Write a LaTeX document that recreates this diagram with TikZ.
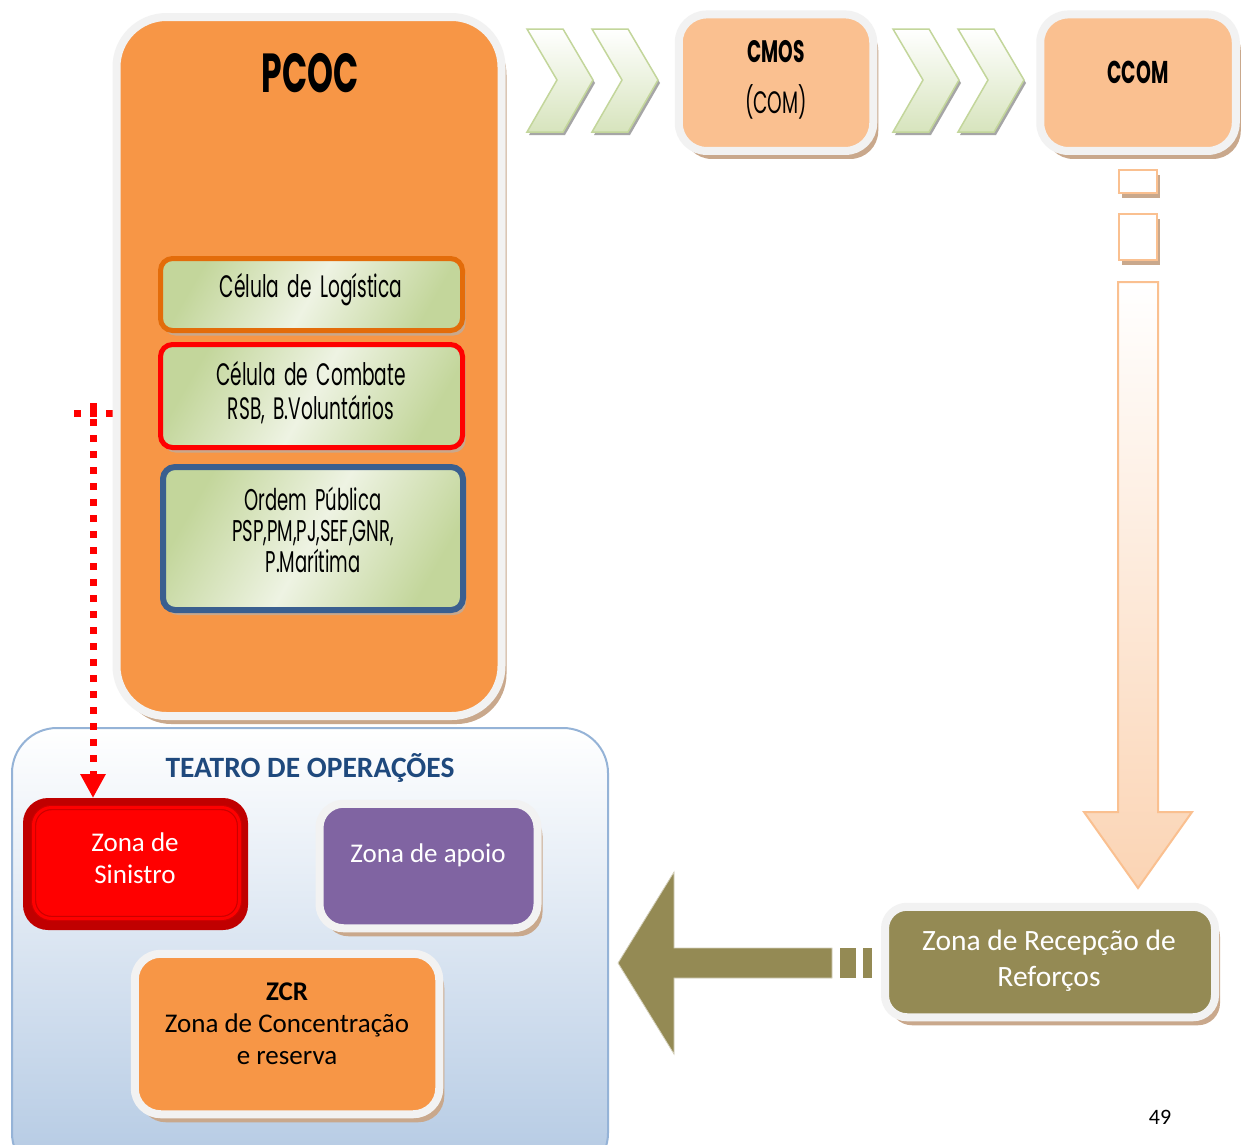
\documentclass[tikz,border=0pt]{standalone}
\usepackage{fontspec}
\setmainfont{Carlito}
\newfontfamily\cond[FakeStretch=0.6, WordSpace=1.7]{Poppins}
\usetikzlibrary{arrows.meta,shadows}
\definecolor{orangeF}{HTML}{F79646}
\definecolor{peach}{HTML}{FAC090}
\definecolor{frameC}{HTML}{F2F2F2}
\definecolor{shadowC}{HTML}{C9A88C}
\definecolor{cellG}{HTML}{C3D69B}
\definecolor{cellL}{HTML}{EEF3E3}
\definecolor{logB}{HTML}{E36C0A}
\definecolor{combB}{HTML}{FF0000}
\definecolor{ordB}{HTML}{3A5F8F}
\definecolor{chevE}{HTML}{C3D69B}
\definecolor{chevF}{HTML}{D7E4BD}
\definecolor{arrE}{HTML}{FAC090}
\definecolor{arrF}{HTML}{FBD4B4}
\definecolor{oliveC}{HTML}{948A54}
\definecolor{teaF}{HTML}{B3C9E3}
\definecolor{teaB}{HTML}{95B3D7}
\definecolor{teaT}{HTML}{1F497D}
\definecolor{sinD}{HTML}{C00000}
\definecolor{apoioC}{HTML}{8064A2}
\tikzset{
  framebox/.style={draw=frameC, line width=8pt, rounded corners=#1},
  framebox/.default=20pt,
  shad/.style={drop shadow={shadow xshift=5pt, shadow yshift=-8pt, fill=shadowC, opacity=1}},
  smallshad/.style={drop shadow={shadow xshift=3pt, shadow yshift=-5pt, fill=shadowC, opacity=1}},
  cellbox/.style={line width=5pt, rounded corners=12pt, shading=axis, top color=cellG, bottom color=cellG, middle color=cellL, shading angle=60, smallshad},
  celltext/.style={font=\cond\fontsize{31}{34}\selectfont, align=center},
  calib/.style={font=\fontsize{27}{32}\selectfont, align=center},
  chev/.pic={\path[draw=chevE, line width=1.5pt, top color=white, bottom color=chevF,
     drop shadow={shadow xshift=2pt, shadow yshift=-3pt, fill=gray!70, opacity=1}]
     (0,0) -- (36,0) -- (66,51) -- (36,103) -- (0,103) -- (30,51) -- cycle;},
  reddot/.style={draw=red, line width=7pt, dash pattern=on 7pt off 9pt}
}
\begin{document}
\begin{tikzpicture}[x=1pt,y=-1pt, every node/.style={inner sep=0pt, outer sep=0pt}]
\useasboundingbox (0,0) rectangle (1242,1144);
\fill[white] (0,0) rectangle (1242,1144);

% Teatro de operacoes
\begin{scope}
\clip (0,0) rectangle (1242,1144);
\node[draw=teaB, line width=2pt, top color=white, bottom color=teaF, rounded corners=45pt,
      minimum width=596pt, minimum height=450pt, anchor=north] (teatro) at (310,728) {};
\end{scope}
\node[font=\bfseries\fontsize{29.5}{34}\selectfont, text=teaT] (teat) at (310,768) {TEATRO DE OPERAÇÕES};

% red dotted connector (horizontal part)
\draw[reddot] (74,413) -- (114,413);

% PCOC
\node[framebox=50pt, fill=orangeF, minimum width=385pt, minimum height=699pt, shad] (pcoc) at (309,366.5) {};
\node[font=\cond\bfseries\fontsize{55}{60}\selectfont] (pcoct) at (310,73) {PCOC};

% cells
\node[cellbox, draw=logB, minimum width=302pt, minimum height=72pt] (log) at (311.5,294.5) {};
\node[celltext] (logt) at (311,290) {Célula de Logística};
\node[cellbox, draw=combB, minimum width=302pt, minimum height=103pt] (comb) at (311.5,396) {};
\node[celltext] (combt) at (311,393) {Célula de Combate\\RSB, B.Voluntários};
\node[cellbox, draw=ordB, line width=6pt, minimum width=300pt, minimum height=143pt] (ord) at (313,538.5) {};
\node[celltext, font=\cond\fontsize{30}{31}\selectfont] (ordt) at (313,530) {Ordem Pública\\PSP,PM,PJ,SEF,GNR,\\P.Marítima};

% chevrons
\pic (c1) at (527,29) {chev};
\pic (c2) at (592,29) {chev};
\pic (c3) at (893,29) {chev};
\pic (c4) at (958,29) {chev};

% CMOS / CCOM
\node[framebox=28pt, fill=peach, minimum width=194.5pt, minimum height=136.5pt, shad] (cmos) at (776,82.7) {};
\node[font=\cond\bfseries\fontsize{31}{34}\selectfont] (cmost) at (776,52) {CMOS};
\node[font=\cond\fontsize{31}{34}\selectfont] (comt) at (776,102) {(COM)};
\node[framebox=28pt, fill=peach, minimum width=195.5pt, minimum height=136.5pt, shad] (ccom) at (1138,82.7) {};
\node[font=\cond\bfseries\fontsize{31.5}{34}\selectfont] (ccomt) at (1138,72) {CCOM};

% down arrow from CCOM to ZRR
\node[draw=arrE, line width=2pt, fill=white, minimum width=38pt, minimum height=23pt, smallshad] (d1) at (1137.5,181) {};
\node[draw=arrE, line width=2pt, fill=white, minimum width=38pt, minimum height=46pt, smallshad] (d2) at (1137.5,237) {};
\coordinate (dtop) at (1138,282);
\coordinate (dtip) at (1138,888);
\path[draw=arrE, line width=2pt, top color=white, bottom color=arrF]
  ([xshift=-20pt]dtop) -- ([xshift=20pt]dtop) -- (1158,812) -- (1192,812) -- (dtip) -- (1084,812) -- (1118,812) -- cycle;

% Zona de Recepcao de Reforcos
\node[framebox=22pt, fill=oliveC, minimum width=330pt, minimum height=110.5pt, shad] (zrr) at (1050,962) {};
\node[calib, text=white, font=\fontsize{29.5}{36}\selectfont] (zrrt) at (1049,961) {Zona de Recepção de\\Reforços};

% left arrow from ZRR to Teatro
\coordinate (ltip) at (618,963);
\fill[oliveC, draw=oliveC!40!white, line width=0.8pt] (ltip) -- (674,872) -- (674,948) -- (832,948) -- (832,978) -- (674,978) -- (674,1054) -- cycle;
\fill[oliveC] (840,948) rectangle (856,978);
\fill[oliveC] (863,948) rectangle (872,978);

% Zona de Sinistro
\node[fill=sinD, rounded corners=25pt, minimum width=225pt, minimum height=132pt] (zs) at (135.5,864) {};
\node[fill=red, draw=red!80!black, double=red, double distance=3pt, line width=1.2pt, rounded corners=18pt, minimum width=206pt, minimum height=111pt] (zsi) at (136.5,863) {};
\node[calib, text=white] (zst) at (135,858) {Zona de\\Sinistro};

% Zona de apoio
\node[framebox=24pt, fill=apoioC, minimum width=218pt, minimum height=124.5pt, shad] (za) at (428.5,866) {};
\node[calib, text=white] (zat) at (428,855) {Zona de apoio};

% ZCR
\node[framebox=26pt, fill=orangeF, minimum width=304.5pt, minimum height=160.5pt, shad] (zcr) at (287,1034) {};
\node[calib] (zcrt) at (287,1024) {\textbf{ZCR}\\Zona de Concentração\\e reserva};

% red dotted arrow to Zona de Sinistro
\coordinate (rd) at (93,403);
\draw[reddot, -{Triangle[length=24pt,width=24pt]}] (rd) -- (rd |- zs.north);

% page number
\node[font=\fontsize{22}{26}\selectfont] (pg) at (1160,1117) {49};
\end{tikzpicture}
\end{document}
